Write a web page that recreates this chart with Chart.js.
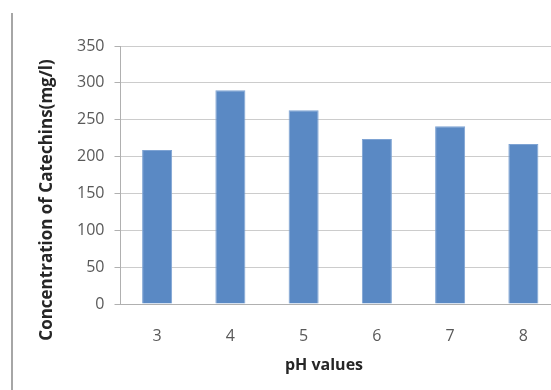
<!DOCTYPE html>
<html lang="en">
<head>
    <meta charset="UTF-8">
    <title>Catechins vs pH</title>
    <script src="https://cdn.jsdelivr.net/npm/chart.js"></script>
    <style>
        body {
            margin: 0;
            padding: 0;
            background: #ffffff;
            overflow: hidden;
        }
        #moldura {
            position: absolute;
            left: 11px;
            top: 13px;
            width: 0;
            height: 380px;
            border-left: 2px solid #a6a6a6;
        }
        #grafico {
            position: absolute;
            left: 0;
            top: 0;
        }
    </style>
</head>
<body>
    <div id="moldura"></div>
    <canvas id="grafico" width="560" height="390"></canvas>

    <script>
        // dados
        const valoresPH = ['3', '4', '5', '6', '7', '8'];
        const catequinas = [209, 290, 263, 224, 241, 217];
        const tituloY = 'Concentration of Catechins(mg/l)';
        const tituloX = 'pH values';

        const fonte = '"Open Sans", Lato, sans-serif';

        // títulos dos eixos: no original estão deslocados do centro da área do gráfico
        const titulosPlugin = {
            id: 'titulos',
            afterDraw(chart) {
                const { ctx, chartArea } = chart;
                const larg = chartArea.right - chartArea.left;
                const alt = chartArea.bottom - chartArea.top;
                ctx.save();
                ctx.fillStyle = '#262626';
                ctx.textAlign = 'center';
                ctx.textBaseline = 'middle';

                ctx.font = 'bold 16px ' + fonte;
                ctx.fillText(tituloX, chartArea.left + larg * 0.463, chartArea.bottom + 61);

                ctx.font = 'bold 17px ' + fonte;
                ctx.translate(chartArea.left - 73, chartArea.top + alt * 0.597);
                ctx.rotate(-Math.PI / 2);
                ctx.fillText(tituloY, 0, 0);
                ctx.restore();
            }
        };

        new Chart(document.getElementById('grafico').getContext('2d'), {
            type: 'bar',
            data: {
                labels: valoresPH,
                datasets: [{
                    data: catequinas,
                    backgroundColor: '#5a89c4',
                    borderColor: '#7ea3d3',
                    borderWidth: 1,
                    barPercentage: 0.41,
                    categoryPercentage: 1
                }]
            },
            options: {
                responsive: false,
                animation: false,
                layout: {
                    padding: { left: 38, top: 46, right: 0, bottom: 22 }
                },
                plugins: {
                    legend: { display: false },
                    tooltip: { enabled: false }
                },
                scales: {
                    x: {
                        grid: { display: false, drawTicks: false },
                        border: { color: '#b0b0b0', width: 1 },
                        ticks: {
                            padding: 23,
                            color: '#595959',
                            font: { family: fonte, size: 16 }
                        },
                        afterFit(scale) { scale.height = 64; }
                    },
                    y: {
                        min: 0,
                        max: 350,
                        ticks: {
                            stepSize: 50,
                            padding: 10,
                            color: '#595959',
                            font: { family: fonte, size: 16 }
                        },
                        grid: { color: '#cccccc', lineWidth: 1, tickLength: 6, tickColor: '#b0b0b0' },
                        border: { color: '#b0b0b0', width: 1 },
                        afterFit(scale) { scale.width = 82.5; }
                    }
                }
            },
            plugins: [titulosPlugin]
        });
    </script>
</body>
</html>
